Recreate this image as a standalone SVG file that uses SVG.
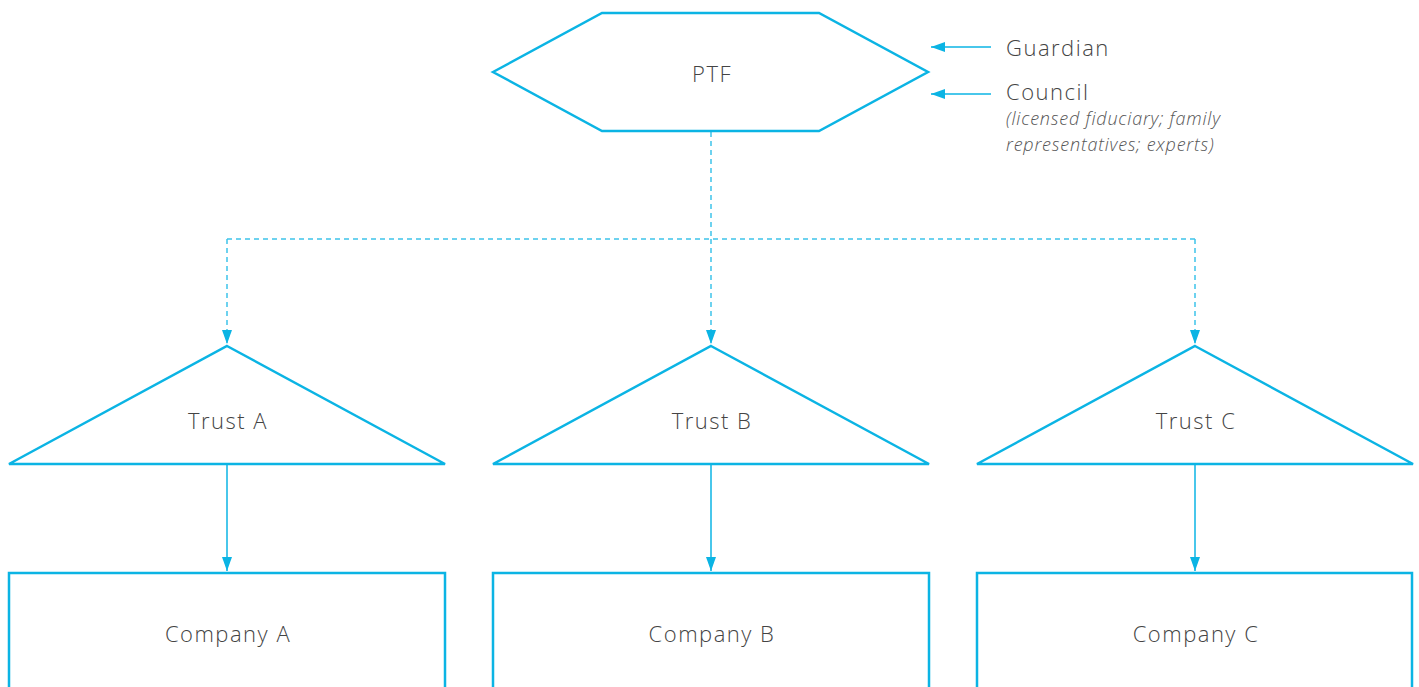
<svg xmlns="http://www.w3.org/2000/svg" width="1419" height="687" viewBox="0 0 1419 687">
<style>
.shape{fill:#fff;stroke:#0bb4e4;stroke-width:2.5;stroke-linejoin:miter}
.conn{fill:none;stroke:#0bb4e4;stroke-width:1.5}
.dash{stroke-dasharray:5 4;stroke:#3ec3ea}
.lbl{font-family:"Open Sans","Liberation Sans",sans-serif;font-weight:300;font-size:22px;letter-spacing:1.5px;fill:#444;text-anchor:middle;dominant-baseline:central}
.side{font-family:"Open Sans","Liberation Sans",sans-serif;font-weight:300;font-size:22px;letter-spacing:1.5px;fill:#444}
.note{font-family:"Open Sans","Liberation Sans",sans-serif;font-weight:300;font-size:18px;letter-spacing:0.8px;font-style:italic;fill:#555}
</style>
<defs>
<marker id="ahl" viewBox="0 0 14 10" refX="14" refY="5" markerWidth="14" markerHeight="10" markerUnits="userSpaceOnUse" orient="auto">
<path d="M0,0 L14,5 L0,10 z" fill="#0bb4e4"/>
</marker>
</defs>
<g id="connectors">
<path class="conn dash" d="M711,132 V239 M227,239 H1195"/>
<path class="conn dash" d="M227,239 V344" marker-end="url(#ahl)"/>
<path class="conn dash" d="M711,239 V344" marker-end="url(#ahl)"/>
<path class="conn dash" d="M1195,239 V344" marker-end="url(#ahl)"/>
<path class="conn" d="M227,465 V571" marker-end="url(#ahl)"/>
<path class="conn" d="M711,465 V571" marker-end="url(#ahl)"/>
<path class="conn" d="M1195,465 V571" marker-end="url(#ahl)"/>
<path class="conn" d="M991,47 H931" marker-end="url(#ahl)"/>
<path class="conn" d="M991,94 H931" marker-end="url(#ahl)"/>
</g>
<g id="ptf">
<polygon class="shape" points="493,72 602,13 819,13 928,72 819,131 602,131"/>
<text class="lbl" x="712" y="73">PTF</text>
</g>
<g id="guardian">
<text class="side" x="1006" y="56">Guardian</text>
</g>
<g id="council">
<text class="side" x="1006" y="100">Council</text>
<text class="note" x="1006" y="125">(licensed fiduciary; family</text>
<text class="note" x="1006" y="151">representatives; experts)</text>
</g>
<g id="trustA">
<polygon class="shape" points="227,346 445,464 9,464"/>
<text class="lbl" x="228" y="420">Trust A</text>
</g>
<g id="trustB">
<polygon class="shape" points="711,346 929,464 493,464"/>
<text class="lbl" x="712" y="420">Trust B</text>
</g>
<g id="trustC">
<polygon class="shape" points="1195,346 1413,464 977,464"/>
<text class="lbl" x="1196" y="420">Trust C</text>
</g>
<g id="companyA">
<rect class="shape" x="9" y="573" width="436" height="130"/>
<text class="lbl" x="228" y="633">Company A</text>
</g>
<g id="companyB">
<rect class="shape" x="493" y="573" width="436" height="130"/>
<text class="lbl" x="712" y="633">Company B</text>
</g>
<g id="companyC">
<rect class="shape" x="977" y="573" width="435" height="130"/>
<text class="lbl" x="1196" y="633">Company C</text>
</g>
</svg>
